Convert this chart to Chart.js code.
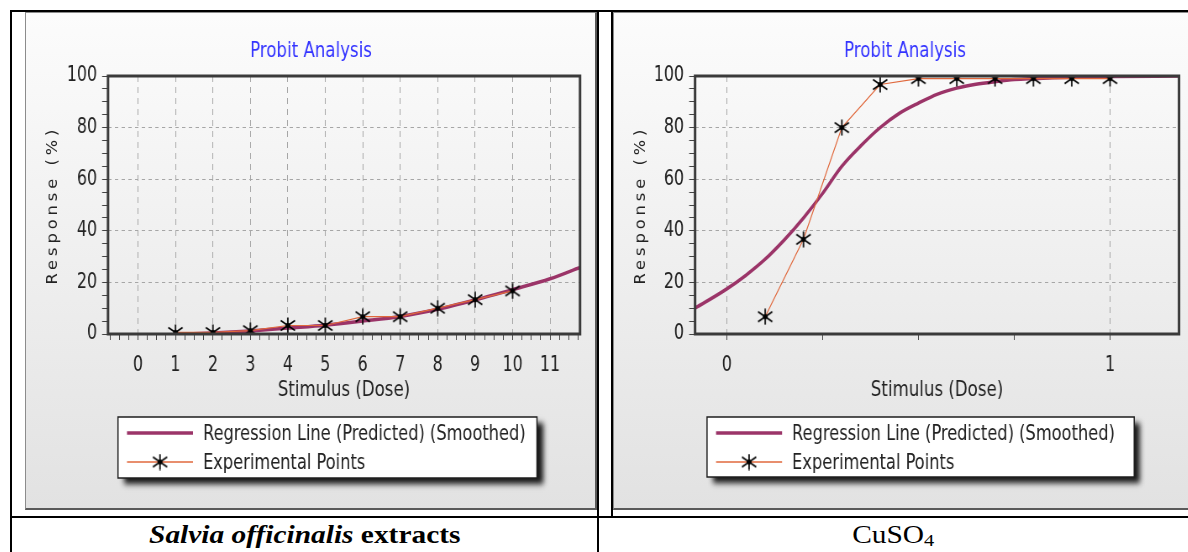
<!DOCTYPE html>
<html>
<head>
<meta charset="utf-8">
<script src="https://cdn.jsdelivr.net/npm/chart.js@4/dist/chart.umd.min.js"></script>
<style>
html, body { margin: 0; padding: 0; background: #fff; }
body { width: 1188px; height: 552px; position: relative; overflow: hidden; }
.ln { position: absolute; background: #000; }
.panel { position: absolute; box-sizing: border-box; background: linear-gradient(#fcfcfc, #e2e2e2);
         border: 1px solid #8c8c8c; border-right: 2px solid #5a5a5a; border-bottom: 2px solid #5a5a5a; }
canvas { position: absolute; }
.cap { position: absolute; top: 518px; height: 34px; line-height: 34px; text-align: center; }
.cap span { display: inline-block; transform: scaleX(1.2); transform-origin: center;
            font-family: 'Liberation Serif', 'Times New Roman', serif; font-size: 24.5px; color: #000; }
</style>
</head>
<body>
<div class="panel" style="left:25px;top:12px;width:572px;height:498px"></div>
<div class="panel" style="left:613px;top:12px;width:584px;height:498px"></div>
<canvas id="left" style="left:25px;top:12px;width:572px;height:498px"></canvas>
<canvas id="right" style="left:613px;top:12px;width:584px;height:498px"></canvas>

<div class="ln" style="left:10px;top:10px;width:1178px;height:2px"></div>
<div class="ln" style="left:10px;top:10px;width:2px;height:542px"></div>
<div class="ln" style="left:597px;top:10px;width:2px;height:542px"></div>
<div class="ln" style="left:611px;top:10px;width:2px;height:506px"></div>
<div class="ln" style="left:10px;top:516px;width:1178px;height:2px"></div>

<div class="cap" style="left:12px;width:585px"><span><b><i>Salvia officinalis</i> extracts</b></span></div>
<div class="cap" style="left:599px;width:589px"><span>CuSO<sub style="font-size:17px;vertical-align:-3px">4</sub></span></div>

<script>
// ---- data ----
const chartTitle = 'Probit Analysis';
const xTitle = 'Stimulus (Dose)';
const yTitle = 'Response (%)';
const seriesNames = ['Regression Line (Predicted) (Smoothed)', 'Experimental Points'];
const yTickLabels = [0, 20, 40, 60, 80, 100];

// Salvia officinalis
const leftXLabels = [0, 1, 2, 3, 4, 5, 6, 7, 8, 9, 10, 11];
const leftRegX = [1.2, 2, 3, 4, 5, 6, 7, 8, 9, 10, 11, 11.8];
const leftRegY = [0, 0.4, 1.2, 2.3, 3.4, 5.0, 6.8, 9.6, 13.2, 17.2, 21.4, 25.8];
const leftExpX = [1, 2, 3, 4, 5, 6, 7, 8, 9, 10];
const leftExpY = [0.6, 0.6, 1.3, 3.3, 3.3, 6.7, 6.7, 10, 13.3, 16.7];

// CuSO4
const rightXLabels = [0, 1];
const rightRegX = [-0.083, 0, 0.05, 0.1, 0.15, 0.2, 0.25, 0.3, 0.35, 0.4, 0.45, 0.5, 0.55, 0.6, 0.65, 0.7, 0.75, 0.85, 1.0, 1.18];
const rightRegY = [10, 17.5, 22.8, 29, 36.5, 45, 54.5, 65, 73, 80, 85.5, 89.5, 93, 95.3, 96.8, 97.8, 98.6, 99.3, 99.8, 100];
const rightExpX = [0.1, 0.2, 0.3, 0.4, 0.5, 0.6, 0.7, 0.8, 0.9, 1.0];
const rightExpY = [6.7, 36.7, 80, 96.7, 99, 99, 99, 99, 99, 99];

// ---- drawing ----
const SQ = 0.84; // the source screenshot is squeezed sideways
const FONT = "'DejaVu Sans Condensed', 'DejaVu Sans', sans-serif";
const REG_COLOR = '#9b3468';
const EXP_COLOR = '#e0683c';
const TEXT = '#222';

function starMarker() {
    const c = document.createElement('canvas');
    c.width = 20; c.height = 17;
    const g = c.getContext('2d');
    g.strokeStyle = '#000';
    g.lineWidth = 1.7;
    g.beginPath();
    g.moveTo(10, 0.5); g.lineTo(10, 16.5);
    g.moveTo(1.5, 3.5); g.lineTo(18.5, 13.5);
    g.moveTo(1.5, 13.5); g.lineTo(18.5, 3.5);
    g.stroke();
    g.fillStyle = '#000';
    g.beginPath(); g.ellipse(10, 8.5, 2.8, 2.4, 0, 0, Math.PI * 2); g.fill();
    return c;
}
const marker = starMarker();

const probitPlugin = {
    id: 'probit',
    beforeDraw(chart) {
        // spaced-out y axis title like the original
        const s = chart.scales.y;
        if (!s._spaced) {
            const orig = s.drawTitle.bind(s);
            s.drawTitle = function () {
                this.ctx.save();
                this.ctx.letterSpacing = '4px';
                orig();
                this.ctx.restore();
            };
            s._spaced = true;
        }
    },
    afterDatasetsDraw(chart) {
        const { ctx, chartArea: a } = chart;
        ctx.save();
        ctx.strokeStyle = '#3a3a3a';
        ctx.lineWidth = 3;
        ctx.strokeRect(a.left, a.top, a.right - a.left, a.bottom - a.top);
        ctx.restore();
    },
    afterDraw(chart, args, opts) {
        const ctx = chart.ctx;
        const x = opts.x / SQ, w = opts.w / SQ, y = opts.y, h = opts.h;
        ctx.save();
        ctx.shadowColor = 'rgba(0,0,0,0.9)';
        ctx.shadowOffsetX = 7;
        ctx.shadowOffsetY = 6;
        ctx.shadowBlur = 6;
        ctx.fillStyle = '#fff';
        ctx.fillRect(x, y, w, h);
        ctx.shadowColor = 'transparent';
        ctx.strokeStyle = '#1e1e1e';
        ctx.lineWidth = 1.5;
        ctx.strokeRect(x, y, w, h);

        const rows = [y + 16, y + 45];
        const sets = chart.data.datasets;
        const order = [1, 0]; // regression first, then experimental
        order.forEach((di, r) => {
            const ds = sets[di];
            const ry = rows[r];
            ctx.strokeStyle = ds.borderColor;
            ctx.lineWidth = di === 1 ? 3.5 : 1.5;
            ctx.beginPath();
            ctx.moveTo(x + 9 / SQ, ry);
            ctx.lineTo(x + 75 / SQ, ry);
            ctx.stroke();
            if (di === 0) ctx.drawImage(marker, x + 42 / SQ - 10, ry - 8.5);
            ctx.fillStyle = TEXT;
            ctx.font = '21.5px ' + FONT;
            ctx.textBaseline = 'middle';
            ctx.fillText(ds.label, x + 85 / SQ, ry + 1);
        });
        ctx.restore();
    }
};

function probitChart(id, cfg) {
    const canvas = document.getElementById(id);
    canvas.width = Math.round(cfg.cssW / SQ);
    canvas.height = 498;
    const padR = (cfg.cssW - cfg.plotR) / SQ;
    const yTickVals = [];
    for (let v = 0; v <= 100; v += 5) yTickVals.push(v);

    return new Chart(canvas, {
        type: 'line',
        data: {
            datasets: [{
                label: seriesNames[1],
                data: cfg.expX.map((x, i) => ({ x, y: cfg.expY[i] })),
                borderColor: EXP_COLOR,
                borderWidth: 1.2,
                pointStyle: marker,
                pointRadius: 7,
                tension: 0,
                order: 0
            }, {
                label: seriesNames[0],
                data: cfg.regX.map((x, i) => ({ x, y: cfg.regY[i] })),
                borderColor: REG_COLOR,
                borderWidth: 3.5,
                pointRadius: 0,
                tension: 0.4,
                cubicInterpolationMode: 'monotone',
                order: 1
            }]
        },
        options: {
            responsive: false,
            animation: false,
            events: [],
            layout: { padding: 0 },
            plugins: {
                legend: { display: false },
                tooltip: { enabled: false },
                title: {
                    display: true,
                    text: chartTitle,
                    color: '#3333ff',
                    font: { family: FONT, size: 22, weight: 'normal' },
                    padding: { top: 26.3, bottom: 11.3 }
                },
                probit: cfg.legend
            },
            scales: {
                x: {
                    type: 'linear',
                    min: cfg.xMin,
                    max: cfg.xMax,
                    afterBuildTicks: s => { s.ticks = cfg.xTicks.map(v => ({ value: v })); },
                    afterFit: s => { s.height = 498 - 322; },
                    ticks: {
                        autoSkip: false,
                        maxRotation: 0,
                        padding: 12.5,
                        color: TEXT,
                        font: { family: FONT, size: 21 },
                        callback: v => cfg.xLabels.includes(v) ? String(v) : ''
                    },
                    grid: {
                        color: c => (c.tick && cfg.xLabels.includes(c.tick.value)) ? '#a6a6a6' : 'rgba(0,0,0,0)',
                        tickColor: '#444',
                        tickLength: 6,
                        lineWidth: 1
                    },
                    border: { display: false, dash: [6, 5] },
                    title: {
                        display: true,
                        text: xTitle,
                        color: TEXT,
                        font: { family: FONT, size: 22 },
                        padding: { top: 0, bottom: 106.8 }
                    }
                },
                y: {
                    min: 0,
                    max: 100,
                    afterBuildTicks: s => { s.ticks = yTickVals.map(v => ({ value: v })); },
                    afterFit: s => { s.width = cfg.plotL / SQ; },
                    ticks: {
                        autoSkip: false,
                        padding: 6,
                        color: TEXT,
                        font: { family: FONT, size: 21 },
                        callback: v => yTickLabels.includes(v) ? String(v) : ''
                    },
                    grid: {
                        color: c => (c.tick && c.tick.value > 0 && c.tick.value < 100 && yTickLabels.includes(c.tick.value)) ? '#a6a6a6' : 'rgba(0,0,0,0)',
                        tickColor: '#444',
                        tickLength: 7,
                        lineWidth: 1
                    },
                    border: { display: false, dash: [4, 4] },
                    title: {
                        display: true,
                        text: yTitle,
                        color: TEXT,
                        font: { family: FONT, size: 18 },
                        padding: { top: 22.5, bottom: 0 }
                    }
                },
                y2: {
                    position: 'right',
                    afterFit: s => { s.width = padR; },
                    ticks: { display: false },
                    grid: { display: false },
                    border: { display: false }
                }
            }
        },
        plugins: [probitPlugin]
    });
}

const leftTicks = [];
for (let k = 0; k <= 50; k++) leftTicks.push(-0.75 + k * 0.25);

probitChart('left', {
    cssW: 572, plotL: 83, plotR: 555,
    xMin: -0.8, xMax: 11.8, xTicks: leftTicks, xLabels: leftXLabels,
    regX: leftRegX, regY: leftRegY, expX: leftExpX, expY: leftExpY,
    legend: { x: 93, y: 405, w: 419, h: 61 }
});

probitChart('right', {
    cssW: 584, plotL: 82, plotR: 566,
    xMin: -0.083, xMax: 1.18, xTicks: [0, 0.25, 0.5, 0.75, 1], xLabels: rightXLabels,
    regX: rightRegX, regY: rightRegY, expX: rightExpX, expY: rightExpY,
    legend: { x: 94, y: 405, w: 427, h: 60 }
});
</script>
</body>
</html>
